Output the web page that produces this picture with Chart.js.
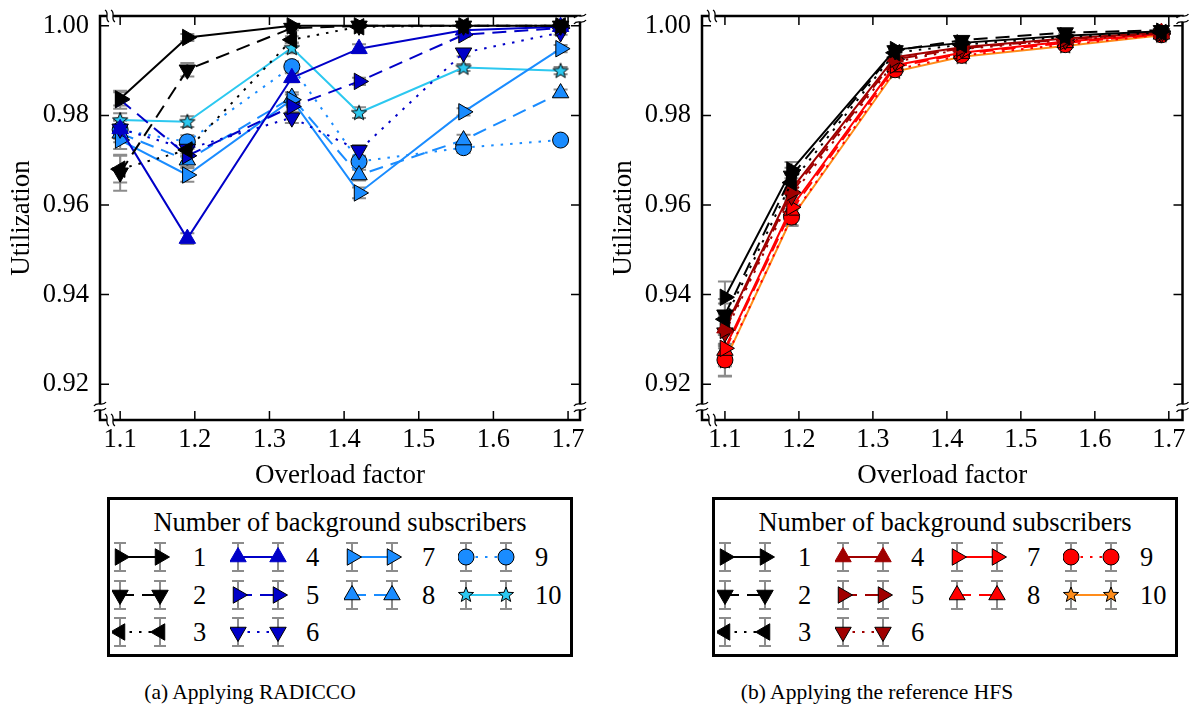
<!DOCTYPE html>
<html>
<head>
<meta charset="utf-8">
<script src="https://cdn.jsdelivr.net/npm/chart.js@4.4.1/dist/chart.umd.min.js"></script>
<style>
  body { margin: 0; background: #fff; font-family: 'Liberation Serif', 'Times New Roman', serif; color: #000; }
  .box { position: absolute; top: 0; height: 492px; }
  .legend { position: absolute; top: 497px; width: 460px; height: 154px; border: 3px solid #000; }
  .legend .title { position: absolute; left: 0; right: 0; top: 7px; text-align: center; font-size: 26.5px; }
  .legend canvas { position: absolute; }
  .legend span { position: absolute; font-size: 26.5px; line-height: 30px; }
  .caption { position: absolute; top: 680px; width: 500px; text-align: center; font-size: 21.5px; }
</style>
</head>
<body>
<div class="box" style="left:0;width:596px"><canvas id="chartA" width="596" height="492"></canvas></div>
<div class="box" style="left:602px;width:591px"><canvas id="chartB" width="591" height="492"></canvas></div>
<div class="legend" id="legendA" style="left:107px"></div>
<div class="legend" id="legendB" style="left:712px"></div>
<div class="caption" style="left:0">(a) Applying RADICCO</div>
<div class="caption" style="left:627px">(b) Applying the reference HFS</div>

<script>
// overload factors (x) and tick labels
const overload = [1.1, 1.19, 1.33, 1.42, 1.56, 1.69];
const xTicks = [1.1, 1.2, 1.3, 1.4, 1.5, 1.6, 1.7];
const yTicks = [0.92, 0.94, 0.96, 0.98, 1.00];
const subscribers = ['1', '2', '3', '4', '5', '6', '7', '8', '9', '10'];

// (a) RADICCO - mean utilization per number of background subscribers
const radiccoUtil = [
  [0.9837, 0.9974, 1.0000, 1.0000, 1.0000, 1.0000],
  [0.9672, 0.9902, 0.9995, 1.0000, 1.0000, 1.0000],
  [0.9680, 0.9723, 0.9969, 0.9998, 1.0000, 1.0000],
  [0.9770, 0.9525, 0.9884, 0.9949, 0.9990, 0.9998],
  [0.9835, 0.9710, 0.9820, 0.9876, 0.9980, 0.9995],
  [0.9770, 0.9725, 0.9795, 0.9722, 0.9940, 0.9985],
  [0.9745, 0.9667, 0.9835, 0.9627, 0.9808, 0.9949],
  [0.9760, 0.9700, 0.9840, 0.9667, 0.9745, 0.9850],
  [0.9768, 0.9741, 0.9909, 0.9697, 0.9728, 0.9745],
  [0.9790, 0.9786, 0.9951, 0.9806, 0.9907, 0.9900]
];
const radiccoErr = [
  [0.0015, 0.0008, 0.0003, 0.0003, 0.0003, 0.0003],
  [0.0040, 0.0015, 0.0005, 0.0003, 0.0003, 0.0003],
  [0.0030, 0.0015, 0.0008, 0.0003, 0.0003, 0.0003],
  [0.0020, 0.0012, 0.0010, 0.0010, 0.0005, 0.0003],
  [0.0020, 0.0015, 0.0012, 0.0008, 0.0005, 0.0003],
  [0.0020, 0.0015, 0.0012, 0.0012, 0.0008, 0.0005],
  [0.0020, 0.0015, 0.0012, 0.0012, 0.0008, 0.0008],
  [0.0020, 0.0015, 0.0012, 0.0012, 0.0012, 0.0008],
  [0.0020, 0.0015, 0.0012, 0.0012, 0.0012, 0.0008],
  [0.0015, 0.0012, 0.0012, 0.0012, 0.0008, 0.0008]
];

// (b) reference HFS
const hfsUtil = [
  [0.9394, 0.9678, 0.9947, 0.9962, 0.9978, 0.9988],
  [0.9355, 0.9665, 0.9945, 0.9968, 0.9985, 0.9990],
  [0.9345, 0.9650, 0.9940, 0.9958, 0.9975, 0.9985],
  [0.9325, 0.9635, 0.9930, 0.9952, 0.9972, 0.9985],
  [0.9320, 0.9628, 0.9925, 0.9950, 0.9970, 0.9984],
  [0.9315, 0.9620, 0.9920, 0.9948, 0.9968, 0.9983],
  [0.9280, 0.9595, 0.9912, 0.9940, 0.9965, 0.9982],
  [0.9275, 0.9588, 0.9908, 0.9938, 0.9962, 0.9981],
  [0.9254, 0.9573, 0.9902, 0.9934, 0.9958, 0.9980],
  [0.9252, 0.9571, 0.9898, 0.9931, 0.9955, 0.9979]
];
const hfsErr = [
  [0.0035, 0.0018, 0.0008, 0.0006, 0.0005, 0.0005],
  [0.0035, 0.0018, 0.0008, 0.0006, 0.0005, 0.0005],
  [0.0035, 0.0018, 0.0008, 0.0006, 0.0005, 0.0005],
  [0.0035, 0.0018, 0.0008, 0.0006, 0.0005, 0.0005],
  [0.0035, 0.0018, 0.0008, 0.0006, 0.0005, 0.0005],
  [0.0035, 0.0018, 0.0008, 0.0006, 0.0005, 0.0005],
  [0.0035, 0.0018, 0.0008, 0.0006, 0.0005, 0.0005],
  [0.0035, 0.0018, 0.0008, 0.0006, 0.0005, 0.0005],
  [0.0035, 0.0018, 0.0008, 0.0006, 0.0005, 0.0005],
  [0.0035, 0.0018, 0.0008, 0.0006, 0.0005, 0.0005]
];

// styles
const blues = ['#000000', '#000000', '#000000', '#0000c8', '#0000c8', '#0000c8', '#1a8cff', '#1a8cff', '#1a8cff', '#2cc8f0'];
const reds = ['#000000', '#000000', '#000000', '#a00000', '#a00000', '#a00000', '#ff0000', '#ff0000', '#ff0000', '#ff8c1a'];
const dashes = [[], [14, 8], [2.5, 7], [], [14, 8], [2.5, 7], [], [14, 8], [2.5, 7], []];
// marker: triangle rotation (deg) or 'circle' / 'star'
const markers = [90, 180, 270, 0, 90, 180, 90, 0, 'circle', 'star'];

Chart.defaults.font.family = "'Liberation Serif', 'Times New Roman', serif";
Chart.defaults.font.size = 26.5;
Chart.defaults.color = '#000';

function starImage(fill) {
  var c = document.createElement('canvas');
  c.width = 20; c.height = 20;
  var g = c.getContext('2d');
  drawStar(g, 10, 10.5, 8, fill);
  return c;
}

function drawStar(g, x, y, r, fill) {
  g.beginPath();
  for (var k = 0; k < 10; k++) {
    var rr = k % 2 ? r * 0.42 : r;
    var a = -Math.PI / 2 + k * Math.PI / 5;
    g.lineTo(x + rr * Math.cos(a), y + rr * Math.sin(a));
  }
  g.closePath();
  g.fillStyle = fill; g.fill();
  g.lineWidth = 1; g.strokeStyle = '#000'; g.stroke();
}

function drawMarker(g, m, x, y, fill, edge) {
  if (m === 'star') { drawStar(g, x, y, 8, fill); return; }
  g.beginPath();
  if (m === 'circle') {
    g.arc(x, y, 8, 0, Math.PI * 2);
  } else {
    var rad = m * Math.PI / 180;
    for (var k = 0; k < 3; k++) {
      g.lineTo(x + Math.sin(rad) * 9.5, y - Math.cos(rad) * 9.5);
      rad += 2 * Math.PI / 3;
    }
    g.closePath();
  }
  g.fillStyle = fill; g.fill();
  g.lineWidth = 1; g.strokeStyle = edge; g.stroke();
}

function makeDatasets(values, errors, colors) {
  return values.map(function (row, i) {
    var m = markers[i];
    var ds = {
      label: subscribers[i],
      data: row.map(function (v, j) { return { x: overload[j], y: v }; }),
      errors: errors[i],
      borderColor: colors[i],
      borderWidth: 2,
      borderDash: dashes[i],
      backgroundColor: colors[i],
      pointBackgroundColor: colors[i],
      pointBorderColor: i === 3 ? colors[i] : '#000',
      pointBorderWidth: 1,
      pointRadius: 9.5,
      pointHoverRadius: 9.5,
      tension: 0,
      fill: false,
      clip: false
    };
    if (m === 'star') {
      ds.pointStyle = starImage(colors[i]);
    } else if (m === 'circle') {
      ds.pointStyle = 'circle';
      ds.pointRadius = 8;
    } else {
      ds.pointStyle = 'triangle';
      ds.pointRotation = m;
    }
    return ds;
  });
}

function breakMark(ctx, x, y, vertical) {
  // two small waves crossing a spine
  ctx.save();
  ctx.fillStyle = '#fff';
  ctx.strokeStyle = '#000';
  ctx.lineWidth = 1.3;
  ctx.fillRect(x - 3, y - 3, 6, 6);
  [-3, 3].forEach(function (d) {
    ctx.beginPath();
    if (vertical) {
      ctx.moveTo(x + d - 2, y - 6);
      ctx.bezierCurveTo(x + d + 3, y - 3, x + d - 3, y + 3, x + d + 2, y + 6);
    } else {
      ctx.moveTo(x - 6, y + d + 2);
      ctx.bezierCurveTo(x - 3, y + d - 3, x + 3, y + d + 3, x + 6, y + d - 2);
    }
    ctx.stroke();
  });
  ctx.restore();
}

const framePlugin = {
  id: 'frame',
  beforeDatasetsDraw: function (chart) {
    var ctx = chart.ctx, x = chart.scales.x, y = chart.scales.y;
    ctx.save();
    ctx.strokeStyle = '#8c8c8c';
    ctx.lineWidth = 2;
    chart.data.datasets.forEach(function (ds) {
      ds.data.forEach(function (p, j) {
        var px = x.getPixelForValue(p.x);
        var t = y.getPixelForValue(p.y + ds.errors[j]);
        var b = y.getPixelForValue(p.y - ds.errors[j]);
        ctx.beginPath();
        ctx.moveTo(px, t); ctx.lineTo(px, b);
        ctx.moveTo(px - 7, t); ctx.lineTo(px + 7, t);
        ctx.moveTo(px - 7, b); ctx.lineTo(px + 7, b);
        ctx.stroke();
      });
    });
    ctx.restore();
  },
  afterDraw: function (chart) {
    var ctx = chart.ctx, a = chart.chartArea, x = chart.scales.x, y = chart.scales.y;
    ctx.save();
    ctx.strokeStyle = '#000';
    ctx.lineWidth = 1.5;
    ctx.beginPath();
    xTicks.forEach(function (v) {
      var px = x.getPixelForValue(v);
      ctx.moveTo(px, a.bottom); ctx.lineTo(px, a.bottom - 9);
      ctx.moveTo(px, a.top); ctx.lineTo(px, a.top + 9);
    });
    yTicks.forEach(function (v) {
      var py = y.getPixelForValue(v);
      ctx.moveTo(a.left, py); ctx.lineTo(a.left + 9, py);
      ctx.moveTo(a.right, py); ctx.lineTo(a.right - 9, py);
    });
    ctx.stroke();
    ctx.lineWidth = 2.5;
    ctx.strokeRect(a.left, a.top, a.right - a.left, a.bottom - a.top);
    ctx.restore();
    breakMark(ctx, a.left + 10, a.top, true);
    breakMark(ctx, a.left + 10, a.bottom, true);
    breakMark(ctx, a.left, a.bottom - 13, false);
    breakMark(ctx, a.right, a.top + 3, false);
    breakMark(ctx, a.right, a.bottom - 13, false);
  }
};

function makeChart(id, values, errors, colors, xmin, xmax, padRight) {
  var ctx = document.getElementById(id).getContext('2d');
  return new Chart(ctx, {
    type: 'line',
    data: { datasets: makeDatasets(values, errors, colors) },
    options: {
      responsive: false,
      animation: false,
      layout: { padding: { left: 0, top: 16, right: padRight, bottom: 0 } },
      plugins: { legend: { display: false }, tooltip: { enabled: false } },
      scales: {
        x: {
          type: 'linear',
          min: xmin,
          max: xmax,
          afterBuildTicks: function (s) { s.ticks = xTicks.map(function (v) { return { value: v }; }); },
          afterFit: function (s) { s.height = 72; s.paddingLeft = 0; s.paddingRight = 0; },
          grid: { display: false, drawTicks: false },
          border: { display: false },
          ticks: { padding: 4, maxRotation: 0, autoSkip: false, callback: function (v) { return v.toFixed(1); } },
          title: { display: true, text: 'Overload factor', font: { size: 27 }, padding: { top: 0, bottom: 0 } }
        },
        y: {
          type: 'linear',
          min: 0.912,
          max: 1.0022,
          afterBuildTicks: function (s) { s.ticks = yTicks.map(function (v) { return { value: v }; }); },
          afterFit: function (s) { s.width = 100; s.paddingTop = 0; s.paddingBottom = 0; },
          grid: { display: false, drawTicks: false },
          border: { display: false },
          ticks: { padding: 11, callback: function (v) { return v.toFixed(2); } },
          title: { display: true, text: 'Utilization', font: { size: 27 }, padding: { top: 6, bottom: 0 } }
        }
      }
    },
    plugins: [framePlugin]
  });
}

makeChart('chartA', radiccoUtil, radiccoErr, blues, 1.073, 1.716, 16);
makeChart('chartB', hfsUtil, hfsErr, reds, 1.069, 1.7185, 6);

// legends (column-major: 1-3, 4-6, 7-8, 9-10)
function buildLegend(id, colors) {
  var box = document.getElementById(id);
  var t = document.createElement('div');
  t.className = 'title';
  t.textContent = 'Number of background subscribers';
  box.appendChild(t);
  var iconX = [2, 120, 234, 348];
  var labelX = [83, 196, 312, 425];
  var rowY = [60, 98, 135];
  var cols = [[0, 1, 2], [3, 4, 5], [6, 7], [8, 9]];
  cols.forEach(function (col, c) {
    col.forEach(function (i, r) {
      var cv = document.createElement('canvas');
      cv.width = 58; cv.height = 34;
      cv.style.left = iconX[c] + 'px';
      cv.style.top = (rowY[r] - 3 - 17) + 'px';
      box.appendChild(cv);
      var g = cv.getContext('2d');
      var cy = 17, xa = 8, xb = 48;
      g.strokeStyle = '#8c8c8c'; g.lineWidth = 2;
      [xa, xb].forEach(function (px) {
        g.beginPath();
        g.moveTo(px, cy - 14); g.lineTo(px, cy + 14);
        g.moveTo(px - 6, cy - 14); g.lineTo(px + 6, cy - 14);
        g.moveTo(px - 6, cy + 14); g.lineTo(px + 6, cy + 14);
        g.stroke();
      });
      g.strokeStyle = colors[i]; g.lineWidth = 2; g.setLineDash(dashes[i]);
      g.beginPath(); g.moveTo(xa, cy); g.lineTo(xb, cy); g.stroke();
      g.setLineDash([]);
      [xa, xb].forEach(function (px) {
        drawMarker(g, markers[i], px, cy, colors[i], i === 3 ? colors[i] : '#000');
      });
      var s = document.createElement('span');
      s.textContent = subscribers[i];
      s.style.left = labelX[c] + 'px';
      s.style.top = (rowY[r] - 3 - 15) + 'px';
      box.appendChild(s);
    });
  });
}
buildLegend('legendA', blues);
buildLegend('legendB', reds);
</script>
</body>
</html>
